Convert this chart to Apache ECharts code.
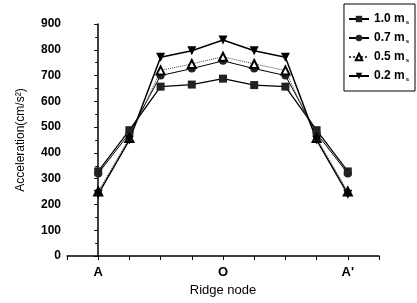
<!DOCTYPE html>
<html><head><meta charset="utf-8">
<script src="https://cdn.jsdelivr.net/npm/echarts@6/dist/echarts.min.js"></script>
<style>html,body{margin:0;padding:0;background:#fff}#c{width:417px;height:303px}</style>
</head><body><div id="c"></div>
<script>
const categories = ['A', '', '', '', 'O', '', '', '', "A'"];
const seriesNames = ['1.0 m', '0.7 m', '0.5 m', '0.2 m'];
const s10 = [328, 488, 657, 665, 688, 663, 657, 488, 328];
const s07 = [320, 476, 700, 727, 757, 727, 700, 476, 320];
const s05 = [250, 458, 720, 745, 773, 745, 720, 458, 250];
const s02 = [240, 450, 771, 796, 838, 796, 771, 450, 240];
const yTicks = [0, 100, 200, 300, 400, 500, 600, 700, 800, 900];

const toPairs = arr => arr.map((v, i) => [i, v]);
const chart = echarts.init(document.getElementById('c'));
const font = 'Liberation Sans, Arial, sans-serif';
const base = {type: 'line', color: '#000', symbolSize: 8, z: 3};
chart.setOption({
  animation: false,
  backgroundColor: '#fff',
  textStyle: {fontFamily: font, color: '#000'},
  grid: {left: 67, right: 38, top: 24, bottom: 47},
  legend: {
    orient: 'vertical', right: 2, top: 4,
    width: 70,
    borderColor: '#000', borderWidth: 1,
    padding: [9, 6, 9, 4],
    itemGap: 7, itemWidth: 20, itemHeight: 8,
    textStyle: {
      fontFamily: font, fontSize: 12, fontWeight: 'bold', color: '#000',
      rich: {sub: {fontSize: 6, verticalAlign: 'bottom', padding: [6, 0, 0, 1], fontWeight: 'bold', fontFamily: font}}
    },
    formatter: n => n + '{sub|s}',
    data: seriesNames
  },
  xAxis: {
    type: 'value', min: -1, max: 9, interval: 1,
    axisLine: {lineStyle: {color: '#000', width: 1.5}},
    axisTick: {show: true, inside: false, length: 4, lineStyle: {color: '#000'}},
    splitLine: {show: false},
    axisLabel: {
      color: '#000', fontSize: 13, fontWeight: 'bold', margin: 10, fontFamily: font,
      formatter: v => (v >= 0 && v < categories.length) ? categories[v] : ''
    },
    name: 'Ridge node', nameLocation: 'middle', nameGap: 26,
    nameTextStyle: {color: '#000', fontSize: 13, fontFamily: font}
  },
  yAxis: {
    type: 'value', min: yTicks[0], max: yTicks[yTicks.length - 1], interval: 100,
    axisLine: {show: true, lineStyle: {color: '#000', width: 1.5}},
    axisTick: {show: true, inside: false, length: 4, lineStyle: {color: '#000'}},
    minorTick: {show: true, splitNumber: 2, length: 3, lineStyle: {color: '#000'}},
    splitLine: {show: false},
    axisLabel: {color: '#000', fontSize: 12, fontWeight: 'bold', margin: 6, fontFamily: font},
    name: 'Acceleration(cm/s²)', nameLocation: 'middle', nameGap: 40, nameRotate: 90,
    nameTextStyle: {color: '#000', fontSize: 12, fontFamily: font}
  },
  series: [
    Object.assign({}, base, {name: seriesNames[0], data: toPairs(s10), symbol: 'rect',
      lineStyle: {color: '#000', width: 1.3}, itemStyle: {color: '#222'}}),
    Object.assign({}, base, {name: seriesNames[1], data: toPairs(s07), symbol: 'circle',
      lineStyle: {color: '#000', width: 1}, itemStyle: {color: '#222'}}),
    Object.assign({}, base, {name: seriesNames[2], data: toPairs(s05), symbol: 'emptyTriangle',
      lineStyle: {color: '#444', width: 1, type: 'dotted'}, itemStyle: {color: '#000', borderColor: '#000'}}),
    Object.assign({}, base, {name: seriesNames[3], data: toPairs(s02), symbol: 'triangle', symbolRotate: 180,
      symbolSize: 9, lineStyle: {color: '#000', width: 1.5}, itemStyle: {color: '#000'}})
  ]
});
</script></body></html>
